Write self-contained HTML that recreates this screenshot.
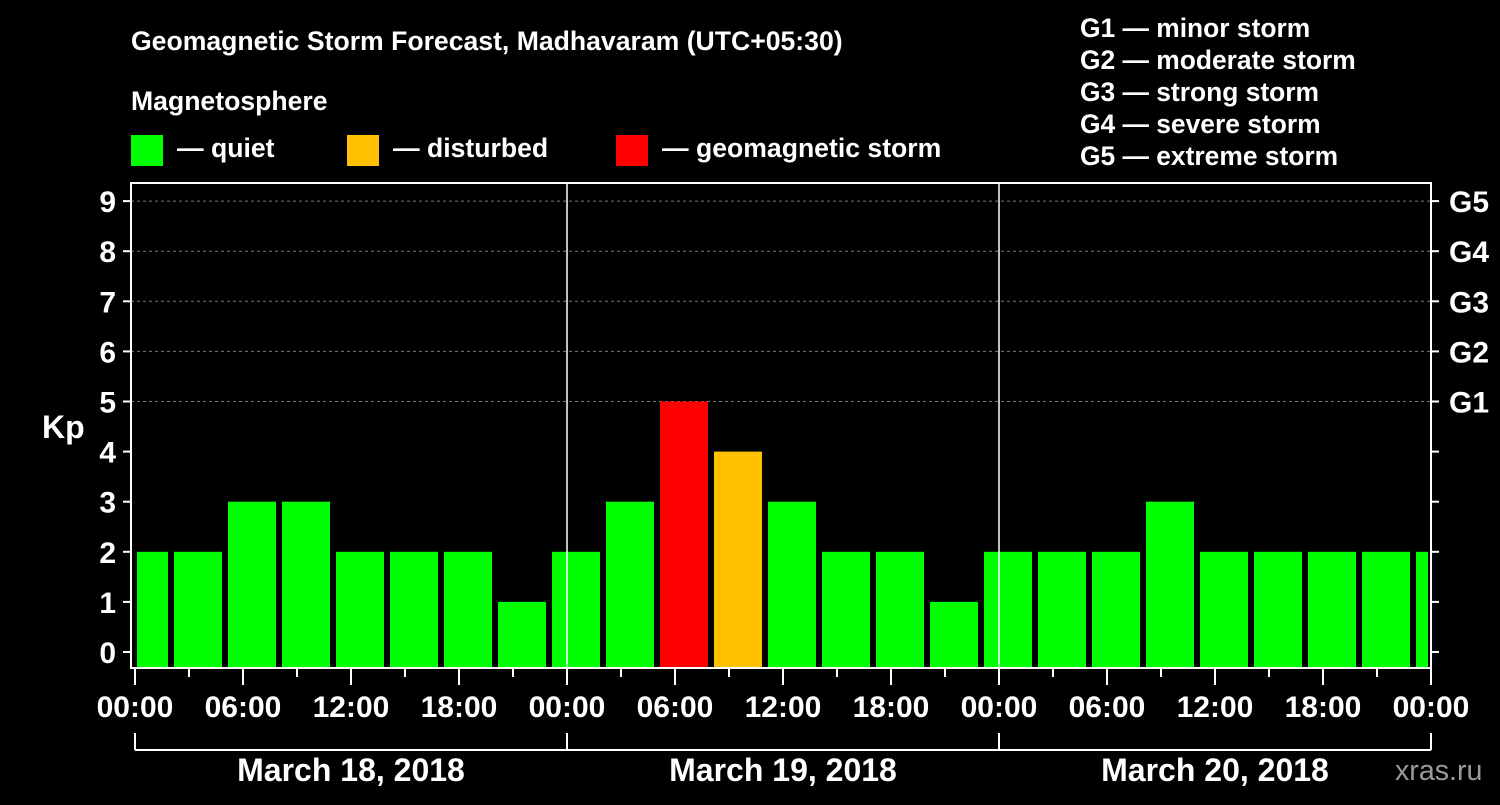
<!DOCTYPE html>
<html><head><meta charset="utf-8"><style>
html,body{margin:0;padding:0;background:#000;}
svg text{font-family:"Liberation Sans",sans-serif;font-weight:bold;fill:#fff;}
</style></head><body>
<svg width="1500" height="800" xmlns="http://www.w3.org/2000/svg">
<rect x="0" y="0" width="1500" height="800" fill="#000"/>
<text x="131" y="50" font-size="26.6">Geomagnetic Storm Forecast, Madhavaram (UTC+05:30)</text>
<text x="131" y="110" font-size="26.6">Magnetosphere</text>
<g><rect x="131" y="135" width="32" height="31" fill="#00ff00"/><text x="177" y="157" font-size="26.6">— quiet</text></g>
<g><rect x="347" y="135" width="32" height="31" fill="#ffc000"/><text x="393" y="157" font-size="26.6">— disturbed</text></g>
<g><rect x="616" y="135" width="32" height="31" fill="#ff0000"/><text x="662" y="157" font-size="26.6">— geomagnetic storm</text></g>
<g font-size="26.4">
<text x="1080" y="37">G1 — minor storm</text>
<text x="1080" y="69">G2 — moderate storm</text>
<text x="1080" y="101">G3 — strong storm</text>
<text x="1080" y="133">G4 — severe storm</text>
<text x="1080" y="165">G5 — extreme storm</text>
</g>
<text x="42" y="438" font-size="32">Kp</text>
<g id="plot"></g>
<text x="1395" y="780" font-size="28.6" style="fill:#9a9a9a;font-weight:normal">xras.ru</text>
</svg>
<script>
const kpValues=[2,2,3,3,2,2,2,1,2,3,5,4,3,2,2,1,2,2,2,3,2,2,2,2,2];
const yTicks=[0,1,2,3,4,5,6,7,8,9];
const gLabels=["G1","G2","G3","G4","G5"];
const timeLabels=["00:00","06:00","12:00","18:00","00:00","06:00","12:00","18:00","00:00","06:00","12:00","18:00","00:00"];
const dayLabels=["March 18, 2018","March 19, 2018","March 20, 2018"];
const NS="http://www.w3.org/2000/svg";
const g=document.getElementById('plot');
const X0=135,PX_H=18,Y0=652,PX_K=50.1,TOP=183,BOT=668,LEFT=131,RIGHT=1431;
const xs=h=>X0+h*PX_H, ys=k=>Y0-k*PX_K;
function mk(t,a){const e=document.createElementNS(NS,t);for(const k in a)e.setAttribute(k,a[k]);g.appendChild(e);return e;}
for(let k=5;k<=9;k++){const e=mk('line',{x1:LEFT,x2:RIGHT,y1:ys(k),y2:ys(k),stroke:'#777','stroke-dasharray':'3,3','stroke-width':1});

}
kpValues.forEach((v,i)=>{const h0=i*3-1, h1=h0+3;
let x1=xs(h0)+3,x2=xs(h1)-3; x1=Math.max(x1,X0+2); x2=Math.min(x2,RIGHT-3);
const col=v>=5?'#ff0000':(v>=4?'#ffc000':'#00ff00');
const r=mk('rect',{x:x1,y:ys(v),width:x2-x1,height:BOT-ys(v),fill:col});

});
[24,48].forEach(h=>{const e=mk('line',{x1:xs(h),x2:xs(h),y1:TOP,y2:BOT,stroke:'#fff','stroke-width':1.5});

});
const f=mk('rect',{x:LEFT,y:TOP,width:RIGHT-LEFT,height:BOT-TOP,fill:'none',stroke:'#fff','stroke-width':2});


yTicks.forEach(k=>{mk('line',{x1:LEFT-8,x2:LEFT,y1:ys(k),y2:ys(k),stroke:'#fff','stroke-width':2});
mk('line',{x1:RIGHT,x2:RIGHT+8,y1:ys(k),y2:ys(k),stroke:'#fff','stroke-width':2});
const t=mk('text',{x:116,y:ys(k)+11,'font-size':30,'text-anchor':'end'});t.textContent=k;

});
gLabels.forEach((s,i)=>{const t=mk('text',{x:1449,y:ys(5+i)+11,'font-size':30});t.textContent=s;

});
for(let h=0;h<=72;h+=3){const major=h%6===0;mk('line',{x1:xs(h),x2:xs(h),y1:BOT,y2:BOT+(major?17:9),stroke:'#fff','stroke-width':2});}
timeLabels.forEach((s,i)=>{const t=mk('text',{x:xs(i*6),y:717,'font-size':30,'text-anchor':'middle'});t.textContent=s;

});
mk('line',{x1:xs(0),x2:xs(72),y1:750,y2:750,stroke:'#fff','stroke-width':2});
[0,24,48,72].forEach(h=>mk('line',{x1:xs(h),x2:xs(h),y1:733,y2:750,stroke:'#fff','stroke-width':2}));
dayLabels.forEach((s,i)=>{const t=mk('text',{x:xs(i*24+12),y:781,'font-size':32,'text-anchor':'middle'});t.textContent=s;

});
</script>
</body></html>
